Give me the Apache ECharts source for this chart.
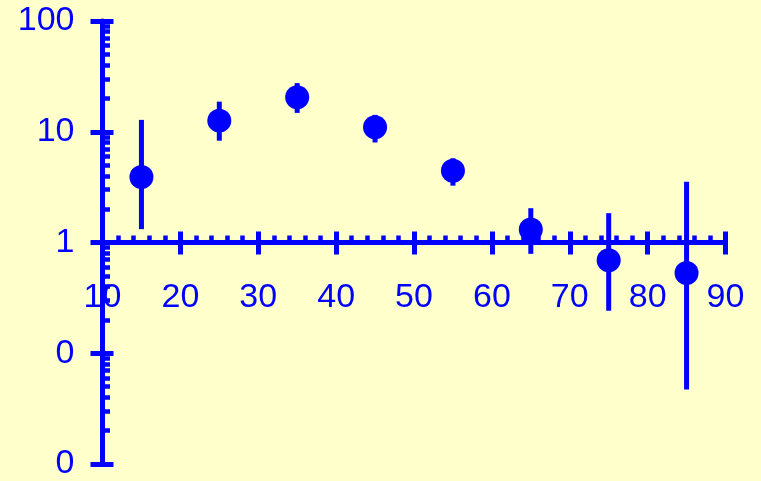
<!DOCTYPE html>
<html>
<head>
<meta charset="utf-8">
<script src="https://cdn.jsdelivr.net/npm/echarts@6/dist/echarts.min.js"></script>
<style>
html,body{margin:0;padding:0;background:#FFFFCC;}
#c{width:761px;height:481px;}
</style>
</head>
<body>
<div id="c"></div>
<script>
// ---- data ----
var xValues = [15, 25, 35, 45, 55, 65, 75, 85];
var yValues = [3.9, 12.6, 20.5, 11.0, 4.45, 1.31, 0.69, 0.53];
var yLow    = [1.32, 8.3, 14.8, 8.0, 3.26, 0.79, 0.242, 0.047];
var yHigh   = [12.8, 18.7, 27.5, 14.2, 5.76, 2.04, 1.84, 3.54];
var yTickValues = [0.01, 0.1, 1, 10, 100];
var yTickLabels = ['0', '0', '1', '10', '100'];
var xTickLabels = ['10', '20', '30', '40', '50', '60', '70', '80', '90'];

var BLUE = '#0000FF';
var FONT = 'Liberation Sans';

var points = xValues.map(function (x, i) { return [x, yValues[i]]; });
var bars = xValues.map(function (x, i) { return [x, yLow[i], yHigh[i]]; });

// minor tick positions in log10 space (2..9 of each decade)
var minorLog = [];
for (var d = -2; d < 2; d++) {
  for (var k = 2; k <= 9; k++) minorLog.push(d + Math.log10(k));
}

var gridTop = 21, gridBottom = 17, H = 481;
var plotH = H - gridTop - gridBottom;
var xOffset = -plotH / 2; // x axis crosses at y = 1 (middle of 0.01..100 log range)

function yLabel(v) {
  var best = 0, bd = Infinity;
  for (var i = 0; i < yTickValues.length; i++) {
    var dd = Math.abs(Math.log10(v) - Math.log10(yTickValues[i]));
    if (dd < bd) { bd = dd; best = i; }
  }
  return yTickLabels[best];
}
function xLabel(v) {
  var i = Math.round((v - 10) / 10);
  return xTickLabels[i] !== undefined ? xTickLabels[i] : '';
}

var chart = echarts.init(document.getElementById('c'));
chart.setOption({
  backgroundColor: '#FFFFCC',
  animation: false,
  grid: { left: 102.5, right: 35.5, top: gridTop, bottom: gridBottom, containLabel: false },
  xAxis: [
    {
      type: 'value', min: 10, max: 90, interval: 10, position: 'bottom', offset: xOffset,
      axisLine: { show: true, onZero: false, lineStyle: { color: BLUE, width: 5 } },
      axisTick: { show: true, inside: false, length: 12, lineStyle: { color: BLUE, width: 5 } },
      minorTick: { show: false },
      splitLine: { show: false },
      axisLabel: { show: true, color: BLUE, fontSize: 34, fontFamily: FONT, margin: 38, formatter: xLabel,
                   showMinLabel: true, showMaxLabel: true, hideOverlap: false }
    },
    {
      type: 'value', min: 10, max: 90, interval: 10, position: 'bottom', offset: xOffset,
      axisLine: { show: false, onZero: false },
      axisTick: { show: true, inside: true, length: 11, lineStyle: { color: BLUE, width: 5 } },
      minorTick: { show: true, splitNumber: 5, length: 7, lineStyle: { color: BLUE, width: 4.5 } },
      splitLine: { show: false },
      axisLabel: { show: false }
    }
  ],
  yAxis: [
    {
      type: 'log', logBase: 10, min: 0.01, max: 100, position: 'left',
      axisLine: { show: true, onZero: false, lineStyle: { color: BLUE, width: 5 } },
      axisTick: { show: true, inside: false, length: 12, lineStyle: { color: BLUE, width: 5 } },
      splitLine: { show: false },
      axisLabel: { show: true, color: BLUE, fontSize: 34, fontFamily: FONT, margin: 28, formatter: yLabel,
                   padding: [5, 0, 0, 0],
                   showMinLabel: true, showMaxLabel: true, hideOverlap: false }
    },
    {
      type: 'value', min: -2, max: 2, interval: 1, position: 'left',
      axisLine: { show: false, onZero: false },
      axisTick: { show: true, inside: true, length: 11, lineStyle: { color: BLUE, width: 5 } },
      splitLine: { show: false },
      axisLabel: { show: false }
    },
    {
      type: 'value', min: -2, max: 2, position: 'left',
      axisLine: { show: false, onZero: false },
      axisTick: { show: true, inside: true, length: 7.5, customValues: minorLog, lineStyle: { color: BLUE, width: 4.5 } },
      splitLine: { show: false },
      axisLabel: { show: false }
    }
  ],
  series: [
    {
      type: 'custom', xAxisIndex: 0, yAxisIndex: 0,
      encode: { x: 0, y: [1, 2] },
      data: bars,
      renderItem: function (params, api) {
        var p1 = api.coord([api.value(0), api.value(1)]);
        var p2 = api.coord([api.value(0), api.value(2)]);
        return { type: 'line', shape: { x1: p1[0], y1: p1[1], x2: p2[0], y2: p2[1] },
                 style: { stroke: BLUE, lineWidth: 5 } };
      },
      z: 3
    },
    {
      type: 'scatter', xAxisIndex: 0, yAxisIndex: 0,
      data: points, symbol: 'circle', symbolSize: 24,
      itemStyle: { color: BLUE, opacity: 1 },
      z: 4
    }
  ]
});
</script>
</body>
</html>
